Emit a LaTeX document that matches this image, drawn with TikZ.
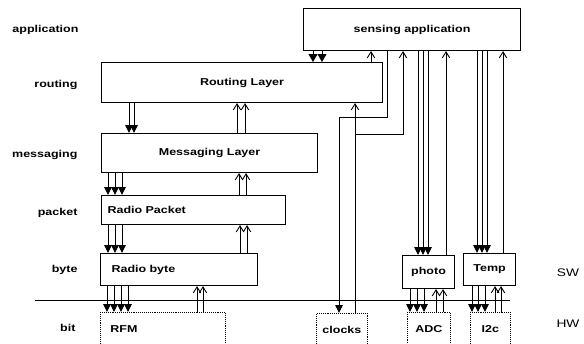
\documentclass[tikz,border=0pt]{standalone}
\usepackage{fontspec}
\setmainfont[FakeStretch=1.25]{Liberation Sans}
\usetikzlibrary{arrows.meta}
\begin{document}
\begin{tikzpicture}[x=1pt,y=-1pt,
  txt/.style={font=\fontsize{10}{12}\selectfont\bfseries},
  box/.style={draw, line width=1.1pt, inner sep=0pt, anchor=north west, txt},
  hwbox/.style={box, densely dotted, line width=0.8pt},
  lab/.style={anchor=east, txt},
  fa/.style={line width=0.9pt, -{Triangle[width=7.5pt,length=8pt]}},
  fawide/.style={line width=0.9pt, -{Triangle[width=9pt,length=8pt]}},
  oa/.style={line width=0.9pt, -{Straight Barb[width=7.5pt,length=6pt,line width=0.9pt]}}]
\useasboundingbox (0,0) rectangle (584,343);
\clip (0,0) rectangle (584,343);

% layer labels
\node[lab] (lapp) at (82,30) {application};
\node[lab] (lrout) at (81,85) {routing};
\node[lab] (lmess) at (81,155) {messaging};
\node[lab] (lpack) at (81,213) {packet};
\node[lab] (lbyte) at (81,270) {byte};
\node[lab] (lbit) at (79,328) {bit};
\node[font=\fontsize{11}{13}\selectfont] (sw) at (568,273) {SW};
\node[font=\fontsize{11}{13}\selectfont] (hw) at (568,324) {HW};

% boxes
\node[box, minimum width=217pt, minimum height=42pt] (sens) at (303,8) {sensing application};
\node[box, minimum width=281pt, minimum height=40pt] (rout) at (101,62) {Routing Layer};
\node[box, minimum width=216pt, minimum height=39pt] (mess) at (101,133) {Messaging Layer};
\node[box, minimum width=184pt, minimum height=29pt, inner xsep=6pt, text width=172pt, align=left] (pack) at (101,195) {Radio Packet};
\node[box, minimum width=157pt, minimum height=32pt, inner xsep=11pt, text width=135pt, align=left] (byte) at (100,253) {Radio byte};
\node[box, minimum width=52pt, minimum height=33pt] (photo) at (402,255) {photo};
\node[box, minimum width=52pt, minimum height=32pt] (temp) at (463,253) {Temp};
\node[hwbox, minimum width=125pt, minimum height=34pt, inner xsep=10pt, text width=105pt, align=left] (rfm) at (100,312) {RFM};
\node[hwbox, minimum width=51pt, minimum height=34pt] (clk) at (316,313) {clocks};
\node[hwbox, minimum width=43pt, minimum height=34pt] (adc) at (407,312) {ADC};
\node[hwbox, minimum width=40pt, minimum height=34pt] (i2c) at (470,312) {I2c};

% SW / HW boundary
\coordinate (bl) at (35,300);
\coordinate (br) at (510,300);
\draw[line width=1pt] (bl) -- (br);

% routing <-> messaging
\foreach \x in {129,134} \draw[fa] (\x,0 |- rout.south) -- (\x,0 |- mess.north);
\foreach \x in {237,245} \draw[oa] (\x,0 |- mess.north) -- (\x,0 |- rout.south);
% messaging <-> packet
\foreach \x in {108,115,122} \draw[fa] (\x,0 |- mess.south) -- (\x,0 |- pack.north);
\foreach \x in {239,246} \draw[oa] (\x,0 |- pack.north) -- (\x,0 |- mess.south);
% packet <-> byte
\foreach \x in {108,115,122} \draw[fa] (\x,0 |- pack.south) -- (\x,0 |- byte.north);
\foreach \x in {240,247} \draw[oa] (\x,0 |- byte.north) -- (\x,0 |- pack.south);
% byte <-> RFM
\foreach \x in {107,114,121,128} \draw[fa] (\x,0 |- byte.south) -- (\x,0 |- rfm.north);
\foreach \x in {197,203} \draw[oa] (\x,0 |- rfm.north) -- (\x,0 |- byte.south);
% sensing application <-> routing
\foreach \x in {313,322} \draw[fawide] (\x,0 |- sens.south) -- (\x,0 |- rout.north);
\draw[oa] (371,0 |- rout.north) -- (371,0 |- sens.south);
% sensing application -> clocks
\draw[fa] (387,0 |- sens.south) -- (387,117) -| (339,0 |- clk.north);
% clocks -> routing and sensing application
\draw[oa] (355,0 |- clk.north) -- (355,0 |- rout.south);
\draw[oa] (355,134) -- (403,134) -- (403,0 |- sens.south);
% sensing application <-> photo
\foreach \x in {418,423,428} \draw[fa] (\x,0 |- sens.south) -- (\x,0 |- photo.north);
\draw[oa] (446,0 |- photo.north) -- (446,0 |- sens.south);
% sensing application <-> Temp
\foreach \x in {477,482,487} \draw[fa] (\x,0 |- sens.south) -- (\x,0 |- temp.north);
\draw[oa] (503,0 |- temp.north) -- (503,0 |- sens.south);
% photo <-> ADC
\foreach \x in {410,417,424} \draw[fa] (\x,0 |- photo.south) -- (\x,0 |- adc.north);
\foreach \x in {436,443} \draw[oa] (\x,0 |- adc.north) -- (\x,0 |- photo.south);
% Temp <-> I2c
\foreach \x in {472,478,485} \draw[fa] (\x,0 |- temp.south) -- (\x,0 |- i2c.north);
\foreach \x in {495,501} \draw[oa] (\x,0 |- i2c.north) -- (\x,0 |- temp.south);
\end{tikzpicture}
\end{document}
